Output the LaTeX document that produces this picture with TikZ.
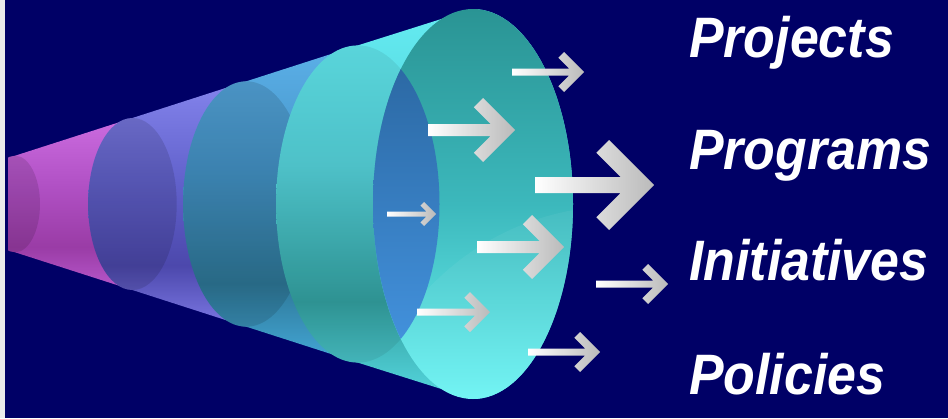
\documentclass[tikz,border=0pt]{standalone}
\usepackage{fontspec}
\usepackage{graphicx}
\setmainfont{Liberation Sans}

% palette
\definecolor{navy}{HTML}{000066}
\definecolor{magA}{HTML}{CC6CE0}\definecolor{magB}{HTML}{B050C4}
\definecolor{magC}{HTML}{9A3CA6}\definecolor{magD}{HTML}{B858CC}
\definecolor{purA}{HTML}{8484EC}\definecolor{purB}{HTML}{6262CC}
\definecolor{purC}{HTML}{4C48AC}\definecolor{purD}{HTML}{7C78E4}
\definecolor{stlA}{HTML}{5CB0E8}\definecolor{stlB}{HTML}{4494C8}
\definecolor{stlC}{HTML}{2E7898}\definecolor{stlD}{HTML}{44A8D8}
\definecolor{cyaA}{HTML}{64ECF2}\definecolor{cyaB}{HTML}{54D0D8}
\definecolor{cyaC}{HTML}{329E9E}\definecolor{cyaD}{HTML}{56D8E0}
\definecolor{frA}{HTML}{2A9494}\definecolor{frB}{HTML}{3CB8BC}
\definecolor{frC}{HTML}{6CF4F4}
\definecolor{holA}{HTML}{2A66A0}\definecolor{holB}{HTML}{4494E0}

% vertical shadings: 0bp is the bottom, the path spans 25bp..75bp
\pgfdeclareverticalshading{magshade}{100bp}{color(0bp)=(magD); color(25bp)=(magD);
  color(37.5bp)=(magC); color(55bp)=(magB); color(75bp)=(magA); color(100bp)=(magA)}
\pgfdeclareverticalshading{purshade}{100bp}{color(0bp)=(purD); color(25bp)=(purD);
  color(37.5bp)=(purC); color(55bp)=(purB); color(75bp)=(purA); color(100bp)=(purA)}
\pgfdeclareverticalshading{stlshade}{100bp}{color(0bp)=(stlD); color(25bp)=(stlD);
  color(37.5bp)=(stlC); color(55bp)=(stlB); color(75bp)=(stlA); color(100bp)=(stlA)}
\pgfdeclareverticalshading{cyashade}{100bp}{color(0bp)=(cyaD); color(25bp)=(cyaD);
  color(37.5bp)=(cyaC); color(55bp)=(cyaB); color(75bp)=(cyaA); color(100bp)=(cyaA)}
\pgfdeclareverticalshading{frontshade}{100bp}{color(0bp)=(frC); color(25bp)=(frC);
  color(50bp)=(frB); color(75bp)=(frA); color(100bp)=(frA)}
\pgfdeclareverticalshading{holeshade}{100bp}{color(0bp)=(holB); color(25bp)=(holB);
  color(75bp)=(holA); color(100bp)=(holA)}

\tikzset{
  arrowfill/.style={left color=white, right color=black!27},
  rimshadow/.style={fill=black, opacity=.12},
  lbl/.style={text=white, inner sep=0pt, anchor=base west,
    font=\bfseries\itshape\fontsize{57}{60}\selectfont},
}

% block arrow: tail x, tip x, centre y, shaft thickness, head half-height, arm thickness
\newcommand\blockarrow[6]{%
  \shade[arrowfill] (#1,{#3-#4/2})
    -- ({#2-1.4142*#6-#4/2},{#3-#4/2})
    -- ({#2-#5-0.7071*#6},{#3-#5+0.7071*#6})
    -- ({#2-#5},{#3-#5})
    -- (#2,#3)
    -- ({#2-#5},{#3+#5})
    -- ({#2-#5-0.7071*#6},{#3+#5-0.7071*#6})
    -- ({#2-1.4142*#6-#4/2},{#3+#4/2})
    -- (#1,{#3+#4/2}) -- cycle;}

\begin{document}
\begin{tikzpicture}[x=1pt,y=-1pt]
\useasboundingbox (0,0) rectangle (948,418);
\fill[navy] (0,0) rectangle (948,418);
\fill[white!92!black] (0,0) rectangle (5,418);

\begin{scope}
\clip (8,0) rectangle (948,418);
% band 0 (magenta)
\shade[shading=magshade] (15.1,155.7) arc[start angle=270,end angle=90,x radius=24.9,y radius=48.3]
  -- (132.4,290) arc[start angle=90,end angle=-90,x radius=44.3,y radius=86] -- cycle;
\fill[rimshadow] (15.1,204) ellipse[x radius=24.9,y radius=48.3];
% band 1 (violet)
\shade[shading=purshade] (132.4,118) arc[start angle=270,end angle=90,x radius=44.3,y radius=86]
  -- (246.3,326.7) arc[start angle=90,end angle=-90,x radius=63.2,y radius=122.7] -- cycle;
\fill[rimshadow] (132.4,204) ellipse[x radius=44.3,y radius=86];
% band 2 (steel blue)
\shade[shading=stlshade] (246.3,81.3) arc[start angle=270,end angle=90,x radius=63.2,y radius=122.7]
  -- (357.8,362.6) arc[start angle=90,end angle=-90,x radius=81.7,y radius=158.6] -- cycle;
\fill[rimshadow] (246.3,204) ellipse[x radius=63.2,y radius=122.7];
% band 3 (cyan)
\shade[shading=cyashade] (357.8,45.4) arc[start angle=270,end angle=90,x radius=81.7,y radius=158.6]
  -- (473,399) arc[start angle=90,end angle=-90,x radius=100,y radius=195] -- cycle;
\fill[rimshadow, opacity=.07] (357.8,204) ellipse[x radius=81.7,y radius=158.6];
% open front end
\shade[shading=frontshade] (473,204) ellipse[x radius=100,y radius=195];
\begin{scope}
  \clip (473,204) ellipse[x radius=100,y radius=195];
  \fill[white,opacity=.05] (620,470) circle[radius=264];
  \shade[shading=holeshade] (357.8,204) ellipse[x radius=81.7,y radius=158.6];
\end{scope}
\end{scope}

% arrows
\blockarrow{512}{584}{72}{7}{20}{8}
\blockarrow{428}{515}{130}{12}{32}{13}
\blockarrow{535}{654}{185}{16}{45}{18}
\blockarrow{387}{436}{214}{5}{12}{5}
\blockarrow{477}{564}{247}{12}{32}{13}
\blockarrow{596}{668}{284}{7}{20}{8}
\blockarrow{417}{490}{312}{7}{20}{8}
\blockarrow{528}{600}{352}{7}{20}{8}

% labels
\node[lbl] (projects) at (689,57) {\scalebox{0.91}[1]{Projects}};
\node[lbl] (programs) at (689,169) {\scalebox{0.91}[1]{Programs}};
\node[lbl] (initiatives) at (689,280) {\scalebox{0.91}[1]{Initiatives}};
\node[lbl] (policies) at (689,394) {\scalebox{0.91}[1]{Policies}};
\end{tikzpicture}
\end{document}
